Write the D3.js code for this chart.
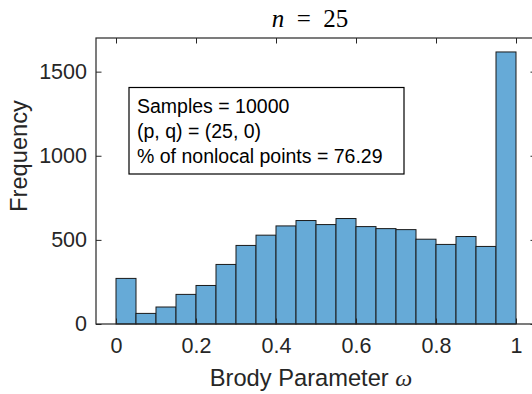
<!DOCTYPE html>
<html>
<head>
<meta charset="utf-8">
<script src="https://cdn.jsdelivr.net/npm/d3@7"></script>
<style>
  body { margin: 0; background: #fff; overflow: hidden; }
  svg { display: block; }
</style>
</head>
<body>
<div class="chart"></div>
<script>
// Histogram bins (left edges) and counts
const binStarts = [0, 0.05, 0.1, 0.15, 0.2, 0.25, 0.3, 0.35, 0.4, 0.45,
                   0.5, 0.55, 0.6, 0.65, 0.7, 0.75, 0.8, 0.85, 0.9, 0.95];
const binWidth = 0.05;
const counts = [271, 63, 101, 176, 229, 354, 467, 528, 583, 615,
                591, 627, 579, 567, 561, 504, 473, 520, 461, 1617];

const xTicks = [0, 0.2, 0.4, 0.6, 0.8, 1];
const yTicks = [0, 500, 1000, 1500];
const infoLines = ["Samples = 10000", "(p, q) = (25, 0)", "% of nonlocal points = 76.29"];

const W = 532, H = 394;
const axisColor = "#262626";

// axes box (right edge falls just outside the window)
const box = { left: 96, right: 536, top: 38, bottom: 324 };

const svg = d3
  .select(".chart")
  .append("svg")
  .attr("width", W)
  .attr("height", H);

const x = d3.scaleLinear().domain([-0.05, 1.05]).range([box.left, box.right]);
const y = d3.scaleLinear().domain([0, 1700]).range([box.bottom, box.top]);

// Bars
const data = binStarts.map((b, i) => ({ x0: b, x1: b + binWidth, value: counts[i] }));
svg
  .append("g")
  .selectAll("rect")
  .data(data)
  .join("rect")
  .attr("x", (d) => x(d.x0))
  .attr("y", (d) => y(d.value))
  .attr("width", (d) => x(d.x1) - x(d.x0))
  .attr("height", (d) => y(0) - y(d.value))
  .attr("fill", "#66aad7")
  .attr("stroke", "#1a1a1a")
  .attr("stroke-width", 1);

// Axes with inward ticks
function styleAxis(g, showLabels) {
  g.select(".domain").remove();
  g.selectAll(".tick line").attr("stroke", axisColor).attr("stroke-width", 1);
  g.selectAll(".tick text")
    .attr("fill", axisColor)
    .style("font-family", "'Liberation Sans', Arial, sans-serif")
    .style("font-size", "21.5px");
  if (!showLabels) g.selectAll(".tick text").remove();
}

svg.append("g")
  .attr("transform", `translate(0,${box.bottom})`)
  .call(d3.axisBottom(x).tickValues(xTicks).tickSize(-5.5).tickPadding(14).tickFormat(d3.format("")))
  .call((g) => styleAxis(g, true));

svg.append("g")
  .attr("transform", `translate(0,${box.top})`)
  .call(d3.axisTop(x).tickValues(xTicks).tickSize(-5.5))
  .call((g) => styleAxis(g, false));

svg.append("g")
  .attr("transform", `translate(${box.left},0)`)
  .call(d3.axisLeft(y).tickValues(yTicks).tickSize(-5.5).tickPadding(9).tickFormat(d3.format("d")))
  .call((g) => styleAxis(g, true));

svg.append("g")
  .attr("transform", `translate(${box.right},0)`)
  .call(d3.axisRight(y).tickValues(yTicks).tickSize(-5.5))
  .call((g) => styleAxis(g, false));

// Axes box
svg.append("rect")
  .attr("x", box.left)
  .attr("y", box.top)
  .attr("width", box.right - box.left)
  .attr("height", box.bottom - box.top)
  .attr("fill", "none")
  .attr("stroke", axisColor)
  .attr("stroke-width", 1.2);

// Title (LaTeX style)
const title = svg.append("text")
  .attr("x", 310)
  .attr("y", 27)
  .attr("text-anchor", "middle")
  .style("font-family", "'Liberation Serif', 'Times New Roman', serif")
  .style("font-size", "25px")
  .attr("fill", "#000")
  .attr("xml:space", "preserve");
title.append("tspan").style("font-style", "italic").text("n");
title.append("tspan").text("  =  25");

// Axis labels
svg.append("text")
  .attr("x", 311)
  .attr("y", 386)
  .attr("text-anchor", "middle")
  .attr("fill", axisColor)
  .style("font-family", "'Liberation Sans', Arial, sans-serif")
  .style("font-size", "23.7px")
  .text("Brody Parameter ")
  .append("tspan")
  .style("font-family", "'Liberation Serif', serif")
  .style("font-style", "italic")
  .style("font-size", "24px")
  .text("ω");

svg.append("text")
  .attr("transform", "translate(27,156) rotate(-90)")
  .attr("text-anchor", "middle")
  .attr("fill", axisColor)
  .style("font-family", "'Liberation Sans', Arial, sans-serif")
  .style("font-size", "23.7px")
  .text("Frequency");

// Annotation box
const note = svg.append("g");
note.append("rect")
  .attr("x", 129)
  .attr("y", 87.5)
  .attr("width", 275)
  .attr("height", 86.5)
  .attr("fill", "#fff")
  .attr("stroke", "#000")
  .attr("stroke-width", 1.2);
note.selectAll("text")
  .data(infoLines)
  .join("text")
  .attr("x", 137)
  .attr("y", (d, i) => 112.5 + i * 25.4)
  .attr("fill", "#000")
  .style("font-family", "'Liberation Sans', Arial, sans-serif")
  .style("font-size", "19.5px")
  .text((d) => d);
</script>
</body>
</html>
